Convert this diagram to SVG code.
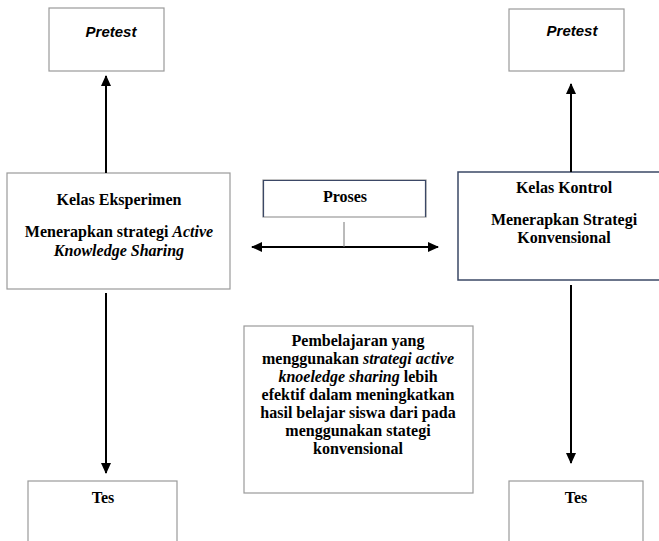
<svg xmlns="http://www.w3.org/2000/svg" width="659" height="541" viewBox="0 0 659 541">
<style>
.box{fill:#fff;stroke:#9a9a9a;stroke-width:1.2}
.navy{fill:#fff;stroke:#3b4866;stroke-width:1.5}
.t{font-family:"Liberation Serif","Times New Roman",serif;font-size:16px;font-weight:bold;text-anchor:middle;fill:#000}
.p{font-family:"Liberation Sans",Arial,sans-serif;font-size:15px;font-weight:bold;font-style:italic;text-anchor:middle;fill:#000}
.i{font-style:italic}
.c{stroke:#000;stroke-width:2;fill:none}
</style>
<defs>
<marker id="ah" markerUnits="userSpaceOnUse" markerWidth="12" markerHeight="12" viewBox="0 0 12 12" refX="10" refY="6" orient="auto-start-reverse">
<path d="M0,1 L11,6 L0,11 Z" fill="#000"/>
</marker>
</defs>
<g id="pretest-left"><rect class="box" x="49" y="8" width="115" height="63"/><text class="p" x="111" y="37">Pretest</text></g>
<g id="pretest-right"><rect class="box" x="509" y="9" width="115" height="62"/><text class="p" x="572" y="36">Pretest</text></g>
<g id="kelas-eksperimen"><rect class="box" x="7" y="173" width="223" height="116"/>
<text class="t" x="119" y="205">Kelas Eksperimen</text>
<text class="t" x="119" y="237">Menerapkan strategi <tspan class="i">Active</tspan></text>
<text class="t" x="119" y="256"><tspan class="i">Knowledge Sharing</tspan></text></g>
<g id="kelas-kontrol"><rect class="navy" x="458" y="172" width="205" height="108"/>
<text class="t" x="564" y="193">Kelas Kontrol</text>
<text class="t" x="564" y="225">Menerapkan Strategi</text>
<text class="t" x="564" y="243">Konvensional</text></g>
<g id="proses"><rect class="box" x="263" y="180" width="163" height="37"/><path d="M263.5,217 V180.5 H425.5 V217" fill="none" stroke="#3b4866" stroke-width="1.2"/>
<text class="t" x="345" y="202">Proses</text></g>
<g id="kesimpulan"><rect class="box" x="244" y="326" width="229" height="167"/>
<text class="t" x="358" y="346">Pembelajaran yang</text>
<text class="t" x="358" y="364">menggunakan <tspan class="i">strategi active</tspan></text>
<text class="t" x="358" y="382"><tspan class="i">knoeledge sharing</tspan> lebih</text>
<text class="t" x="358" y="400">efektif dalam meningkatkan</text>
<text class="t" x="358" y="418">hasil belajar siswa dari pada</text>
<text class="t" x="358" y="436">menggunakan stategi</text>
<text class="t" x="358" y="454">konvensional</text></g>
<g id="tes-left"><rect class="box" x="28" y="481" width="149" height="70"/><text class="t" x="103" y="503">Tes</text></g>
<g id="tes-right"><rect class="box" x="509" y="481" width="134" height="70"/><text class="t" x="576" y="503">Tes</text></g>
<g id="connectors">
<line class="c" x1="106" y1="173" x2="106" y2="76" marker-end="url(#ah)"/>
<line class="c" x1="571" y1="172" x2="571" y2="84" marker-end="url(#ah)"/>
<line class="c" x1="106" y1="293" x2="106" y2="473" marker-end="url(#ah)"/>
<line class="c" x1="571" y1="285" x2="571" y2="463" marker-end="url(#ah)"/>
<line class="c" x1="252" y1="247" x2="438" y2="247" marker-start="url(#ah)" marker-end="url(#ah)"/>
<line x1="344" y1="222" x2="344" y2="247" stroke="#777" stroke-width="1"/>
</g>
</svg>
